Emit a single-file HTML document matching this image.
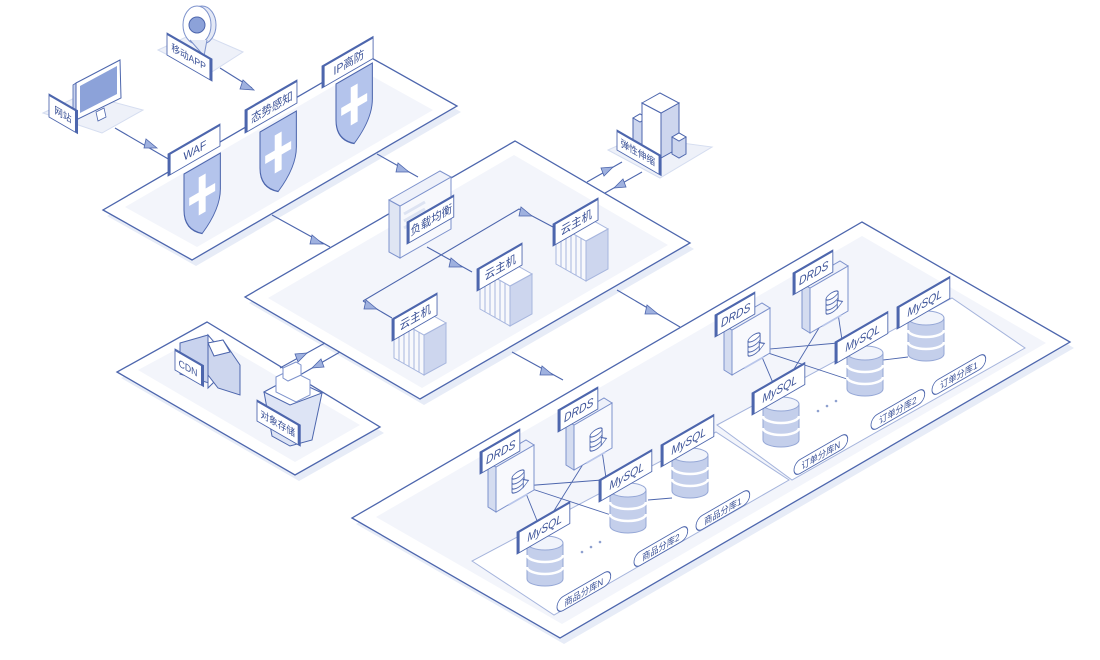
<!DOCTYPE html>
<html><head><meta charset="utf-8"><style>
html,body{margin:0;padding:0;background:#fff;}
svg{display:block;font-family:"Liberation Sans","Noto Sans CJK SC",sans-serif;}
.p{fill:#fff;stroke:#4d66ad;stroke-width:1.3;}
.sh{fill:#e7ecf7;}
.in{fill:#f3f5fb;}
.ln{stroke:#4d66ad;stroke-width:1.1;fill:none;}
.tl{stroke:#4d66ad;stroke-width:0.9;fill:none;}
.ar{fill:#9fb1df;stroke:#4d66ad;stroke-width:0.8;}
.lb{fill:#fff;stroke:#4d66ad;stroke-width:1;}
.lt{fill:#3a5197;font-size:12px;}
.bar{fill:#4d66ad;}
.pill{fill:#fff;stroke:#4d66ad;stroke-width:1;}
.pt{fill:#3a5197;font-size:9.5px;}
.cy{fill:#c4cfeb;stroke:#95a7d6;stroke-width:1;}
.cyt{fill:#f1f4fb;stroke:#95a7d6;stroke-width:1;}
.face{fill:#fff;stroke:#7d92cc;stroke-width:1;}
.side{fill:#cdd6ee;stroke:#7d92cc;stroke-width:1;}
</style></head><body>
<svg width="1100" height="660" viewBox="0 0 1100 660" xmlns="http://www.w3.org/2000/svg">
<defs>
<g id="cyl">
<path class="cy" d="M0,0 L0,36 A18,7 0 0 0 36,36 L36,0 Z"/>
<path d="M0,12 A18,7 0 0 0 36,12" stroke="#fff" stroke-width="2.5" fill="none"/>
<path d="M0,24 A18,7 0 0 0 36,24" stroke="#fff" stroke-width="2.5" fill="none"/>
<ellipse class="cyt" cx="18" cy="0" rx="18" ry="7"/>
</g>
<g id="srv">
<path d="M0,0 L0,40 L30,57 L30,17 Z" fill="#f7f8fc" stroke="#a7b6de"/>
<path d="M5,3 L5,43 M10,6 L10,46 M15,9 L15,49 M20,11 L20,51 M25,14 L25,54" stroke="#a7b6de"/>
<path d="M30,17 L30,57 L52,45 L52,5 Z" fill="#cdd6ee" stroke="#a7b6de"/>
<path d="M0,0 L22,-12 L52,5 L30,17 Z" fill="#fff" stroke="#a7b6de"/>
</g>
<g id="drds">
<path d="M0,0 L0,45 L8,50 L8,5 Z" fill="#d4dcf0" stroke="#7d92cc"/>
<path d="M8,5 L8,50 L46,28 L46,-17 Z" fill="#f8f9fd" stroke="#7d92cc"/>
<path d="M0,0 L38,-22 L46,-17 L8,5 Z" fill="#eef1fa" stroke="#7d92cc"/>
<g transform="matrix(.866,-.5,0,1,24,16)">
<ellipse cx="7" cy="0" rx="7" ry="3" fill="#fff" stroke="#4d66ad"/>
<path d="M0,0 L0,14 A7,3 0 0 0 14,14 L14,0 M0,5 A7,3 0 0 0 14,5 M0,10 A7,3 0 0 0 14,10" fill="none" stroke="#4d66ad"/>
<path d="M13,8 L19,12 L13,16 Z" fill="#fff" stroke="#4d66ad"/>
<rect x="-4" y="24" width="22" height="2" fill="#b9c6ea"/>
</g>
</g>
<g id="shield">
<path d="M0,0 L42,0 L42,36 Q42,56 21,70 Q0,56 0,36 Z" fill="#b4c4ec" stroke="#4d66ad" stroke-width="1.2"/>
<path d="M17,12 L25,12 L25,27 L36,27 L36,35 L25,35 L25,50 L17,50 L17,35 L6,35 L6,27 L17,27 Z" fill="#fff"/>
</g>
</defs>

<!-- ===== Platform 1 ===== -->
<polygon class="sh" points="107,216 196,266 461,112 372,62"/>
<polygon class="p" points="103,210 192,260 457,106 368,56"/>
<polygon class="in" points="125,207 197,247 433,110 361,70"/>

<!-- ===== Platform 2 ===== -->
<polygon class="sh" points="249,303 424,405 694,249 519,147"/>
<polygon class="p" points="245,297 420,399 690,243 515,141"/>
<polygon class="in" points="268,298 422,388 668,245 514,155"/>

<!-- ===== Platform 3 ===== -->
<polygon class="sh" points="121,378 299,481 384,433 211,328"/>
<polygon class="p" points="117,372 295,475 380,427 207,322"/>
<polygon class="in" points="138,370 295,462 360,425 205,334"/>

<!-- ===== Platform 4 ===== -->
<polygon class="sh" points="356,524 564,644 1074,348 866,228"/>
<polygon class="p" points="352,518 560,638 1070,342 862,222"/>
<polygon class="in" points="376,517 562,624 1046,343 862,236"/>
<polygon points="472,561 554,615 789,480 716,432" fill="#fff" stroke="#a5b4dc" stroke-width="1"/>
<polygon points="717,425 792,480 1025,348 952,298" fill="#fff" stroke="#a5b4dc" stroke-width="1"/>

<!-- small bases -->
<polygon points="43,113 83,94 143,110 102,133" fill="#eef1f9" stroke="#d5ddf0"/>
<polygon points="158,50 197,32 243,52 207,75" fill="#eef1f9" stroke="#d5ddf0"/>
<polygon points="608,150 637,137 712,147 660,178" fill="#eef1f9" stroke="#d5ddf0"/>

<!-- ===== connectors ===== -->
<path class="ln" d="M115,128 L170,160"/>
<polygon class="ar" points="157,148 146,139 144,148"/>
<path class="ln" d="M220,68 L252,88"/>
<polygon class="ar" points="254,90 243,80 240,89"/>
<path class="ln" d="M377,154 L418,177"/>
<polygon class="ar" points="409,172 398,163 396,172"/>
<path class="ln" d="M272,215 L330,247"/>
<polygon class="ar" points="323,244 312,235 310,244"/>
<path class="ln" d="M427,247 L472,272"/>
<polygon class="ar" points="462,267 451,258 449,267"/>
<path class="ln" d="M363,301 L519,209 L553,227"/>
<polygon class="ar" points="532,216 521,207 519,216"/>
<path class="ln" d="M363,301 L392,318"/>
<polygon class="ar" points="377,309 366,300 364,309"/>
<path class="ln" d="M587,182 L622,162"/>
<polygon class="ar" points="613,167 601,168 604,176"/>
<path class="ln" d="M605,193 L642,172"/>
<polygon class="ar" points="614,188 626,187 623,179"/>
<path class="ln" d="M617,290 L680,327"/>
<polygon class="ar" points="658,314 647,305 645,314"/>
<path class="ln" d="M512,352 L563,380"/>
<polygon class="ar" points="553,375 542,366 540,375"/>
<path class="ln" d="M325,343 L280,368"/>
<polygon class="ar" points="307,353 295,354 298,362"/>
<path class="ln" d="M340,352 L300,375"/>
<polygon class="ar" points="312,368 324,367 321,359"/>

<!-- DB lines products -->
<path class="tl" d="M523,486 L540,528 M523,486 L602,480 M523,486 L614,516 M600,437 L542,530 M600,437 L606,478 M648,500 L672,498"/>
<!-- DB lines orders -->
<path class="tl" d="M759,350 L776,390 M759,350 L838,343 M759,350 L850,380 M836,300 L780,392 M836,300 L842,340 M883,360 L908,357"/>

<!-- ===== Icons ===== -->
<!-- monitor -->
<polygon points="73,85 76,83 76,120 73,122" fill="#c9d3ee" stroke="#4d66ad" stroke-width=".8"/>
<polygon points="76,83 120,60 121,98 76,120" fill="#fff" stroke="#4d66ad"/>
<polygon points="80,86 117,66 117,94 80,113" fill="#8ca2d9"/>
<polygon points="96,112 104,108 106,117 98,121" fill="#fff" stroke="#4d66ad" stroke-width=".8"/>
<!-- pin -->
<ellipse cx="202" cy="25" rx="14" ry="19" fill="#e4e9f6" stroke="#7d92cc"/>
<ellipse cx="197" cy="25" rx="14" ry="19" fill="#fff" stroke="#7d92cc"/>
<path d="M190,40 L204,56 L207,40" fill="#e4e9f6" stroke="#7d92cc"/>
<circle cx="197" cy="25" r="8" fill="#8ca2d9" stroke="#4d66ad"/>
<!-- shields -->
<g transform="matrix(.866,-.5,0,1,184,174)"><use href="#shield"/></g>
<g transform="matrix(.866,-.5,0,1,260,132)"><use href="#shield"/></g>
<g transform="matrix(.866,-.5,0,1,336,84)"><use href="#shield"/></g>
<!-- load balancer -->
<path d="M389,200 L389,252 L400,258 L400,206 Z" fill="#dfe5f3" stroke="#7d92cc"/>
<path d="M400,206 L400,258 L451,229 L451,177 Z" fill="#f7f8fc" stroke="#7d92cc"/>
<path d="M389,200 L440,171 L451,177 L400,206 Z" fill="#eef1fa" stroke="#7d92cc"/>
<path d="M404,214 L425,202 M404,221 L425,209 M404,228 L425,216" stroke="#dde3f2" stroke-width="3"/>
<!-- servers -->
<use href="#srv" x="556" y="224"/>
<use href="#srv" x="480" y="269"/>
<use href="#srv" x="394" y="318"/>
<!-- buildings -->
<polygon points="633,118 640,114 647,118 647,150 640,154 633,150" fill="#cdd6ee" stroke="#4d66ad"/>
<polygon points="633,118 640,114 647,118 640,122" fill="#fff" stroke="#4d66ad"/>
<polygon points="642,103 661,113 661,158 642,148" fill="#fff" stroke="#4d66ad"/>
<polygon points="661,113 679,103 679,148 661,158" fill="#cdd6ee" stroke="#4d66ad"/>
<polygon points="642,103 660,93 679,103 661,113" fill="#fff" stroke="#4d66ad"/>
<polygon points="672,137 679,133 686,137 686,154 679,158 672,154" fill="#cdd6ee" stroke="#4d66ad"/>
<polygon points="672,137 679,133 686,137 679,141" fill="#fff" stroke="#4d66ad"/>
<!-- CDN -->
<polygon points="180,343 208,335 212,350 212,384 180,374" fill="#c9d3ee" stroke="#4d66ad"/>
<polygon points="208,335 214,342 214,382 208,388" fill="#fff" stroke="#4d66ad"/>
<polygon points="208,343 223,340 240,365 240,395 218,388 208,375" fill="#cdd6ee" stroke="#4d66ad"/>
<polygon points="208,343 223,340 230,352 214,356" fill="#fff" stroke="#4d66ad"/>
<!-- object storage -->
<polygon points="264,392 290,378 322,393 312,440 290,446 272,436" fill="#dde4f5" stroke="#4d66ad"/>
<polygon points="264,392 290,405 322,393 290,378" fill="#fff" stroke="#4d66ad"/>
<polygon points="276,377 290,370 310,380 310,395 296,402 276,392" fill="#fff" stroke="#7d92cc"/>
<polygon points="283,368 296,362 301,365 301,375 288,381 283,378" fill="#fff" stroke="#7d92cc"/>
<!-- DRDS -->
<use href="#drds" x="488" y="462"/>
<use href="#drds" x="566" y="420"/>
<use href="#drds" x="724" y="325"/>
<use href="#drds" x="802" y="283"/>
<!-- cylinders -->
<use href="#cyl" x="527" y="543"/>
<use href="#cyl" x="610" y="490"/>
<use href="#cyl" x="672" y="455"/>
<use href="#cyl" x="763" y="404"/>
<use href="#cyl" x="847" y="353"/>
<use href="#cyl" x="908" y="318"/>
<!-- dots -->
<g fill="#8ea0cf"><circle cx="582" cy="552" r="1.3"/><circle cx="591" cy="547" r="1.3"/><circle cx="600" cy="542" r="1.3"/>
<circle cx="818" cy="411" r="1.3"/><circle cx="827" cy="406" r="1.3"/><circle cx="836" cy="401" r="1.3"/></g>

<!-- ===== Labels (up-right) ===== -->
<g transform="matrix(.866,-.5,0,1,168,154)"><rect class="lb" width="60" height="22"/><rect class="bar" width="3" height="22"/><rect class="bar" width="60" height="2"/><text class="lt" x="31" y="16" text-anchor="middle">WAF</text></g>
<g transform="matrix(.866,-.5,0,1,245,110)"><rect class="lb" width="60" height="23"/><rect class="bar" width="3" height="23"/><rect class="bar" width="60" height="2"/><text class="lt" x="31" y="17" text-anchor="middle">态势感知</text></g>
<g transform="matrix(.866,-.5,0,1,322,66)"><rect class="lb" width="59" height="22"/><rect class="bar" width="3" height="22"/><rect class="bar" width="59" height="2"/><text class="lt" x="31" y="16" text-anchor="middle">IP高防</text></g>
<g transform="matrix(.866,-.5,0,1,407,222)"><rect class="lb" width="54" height="22"/><rect class="bar" width="3" height="22"/><rect class="bar" width="54" height="2"/><text class="lt" x="28" y="16" text-anchor="middle">负载均衡</text></g>
<g transform="matrix(.866,-.5,0,1,553,224)"><rect class="lb" width="52" height="22"/><rect class="bar" width="3" height="22"/><rect class="bar" width="52" height="2"/><text class="lt" x="27" y="16" text-anchor="middle">云主机</text></g>
<g transform="matrix(.866,-.5,0,1,477,269)"><rect class="lb" width="52" height="22"/><rect class="bar" width="3" height="22"/><rect class="bar" width="52" height="2"/><text class="lt" x="27" y="16" text-anchor="middle">云主机</text></g>
<g transform="matrix(.866,-.5,0,1,392,319)"><rect class="lb" width="52" height="22"/><rect class="bar" width="3" height="22"/><rect class="bar" width="52" height="2"/><text class="lt" x="27" y="16" text-anchor="middle">云主机</text></g>
<!-- DRDS labels -->
<g transform="matrix(.866,-.5,0,1,480,452)"><rect class="lb" width="46" height="22"/><rect class="bar" width="3" height="22"/><rect class="bar" width="46" height="2"/><text class="lt" x="24" y="16" text-anchor="middle" font-style="italic">DRDS</text></g>
<g transform="matrix(.866,-.5,0,1,558,410)"><rect class="lb" width="46" height="22"/><rect class="bar" width="3" height="22"/><rect class="bar" width="46" height="2"/><text class="lt" x="24" y="16" text-anchor="middle" font-style="italic">DRDS</text></g>
<g transform="matrix(.866,-.5,0,1,715,315)"><rect class="lb" width="46" height="22"/><rect class="bar" width="3" height="22"/><rect class="bar" width="46" height="2"/><text class="lt" x="24" y="16" text-anchor="middle" font-style="italic">DRDS</text></g>
<g transform="matrix(.866,-.5,0,1,793,273)"><rect class="lb" width="46" height="22"/><rect class="bar" width="3" height="22"/><rect class="bar" width="46" height="2"/><text class="lt" x="24" y="16" text-anchor="middle" font-style="italic">DRDS</text></g>
<!-- MySQL labels -->
<g transform="matrix(.866,-.5,0,1,517,532)"><rect class="lb" width="61" height="22"/><rect class="bar" width="3" height="22"/><rect class="bar" width="61" height="2"/><text class="lt" x="32" y="16" text-anchor="middle" font-style="italic">MySQL</text></g>
<g transform="matrix(.866,-.5,0,1,599,480)"><rect class="lb" width="61" height="22"/><rect class="bar" width="3" height="22"/><rect class="bar" width="61" height="2"/><text class="lt" x="32" y="16" text-anchor="middle" font-style="italic">MySQL</text></g>
<g transform="matrix(.866,-.5,0,1,661,445)"><rect class="lb" width="61" height="22"/><rect class="bar" width="3" height="22"/><rect class="bar" width="61" height="2"/><text class="lt" x="32" y="16" text-anchor="middle" font-style="italic">MySQL</text></g>
<g transform="matrix(.866,-.5,0,1,752,393)"><rect class="lb" width="61" height="22"/><rect class="bar" width="3" height="22"/><rect class="bar" width="61" height="2"/><text class="lt" x="32" y="16" text-anchor="middle" font-style="italic">MySQL</text></g>
<g transform="matrix(.866,-.5,0,1,835,342)"><rect class="lb" width="61" height="22"/><rect class="bar" width="3" height="22"/><rect class="bar" width="61" height="2"/><text class="lt" x="32" y="16" text-anchor="middle" font-style="italic">MySQL</text></g>
<g transform="matrix(.866,-.5,0,1,897,307)"><rect class="lb" width="61" height="22"/><rect class="bar" width="3" height="22"/><rect class="bar" width="61" height="2"/><text class="lt" x="32" y="16" text-anchor="middle" font-style="italic">MySQL</text></g>

<!-- ===== Labels (down-right) ===== -->
<g transform="matrix(.866,.5,0,1,49,94)"><rect class="lb" width="33" height="23"/><rect class="bar" x="30" width="3" height="23"/><rect class="bar" width="33" height="2"/><text class="lt" x="16" y="16" text-anchor="middle" font-size="10" style="font-size:10px">网站</text></g>
<g transform="matrix(.866,.5,0,1,167,33)"><rect class="lb" width="52" height="22"/><rect class="bar" x="49" width="3" height="22"/><rect class="bar" width="52" height="2"/><text class="lt" x="25" y="15" text-anchor="middle" style="font-size:10px">移动APP</text></g>
<g transform="matrix(.866,.5,0,1,617,130)"><rect class="lb" width="51" height="20"/><rect class="bar" x="48" width="3" height="20"/><rect class="bar" width="51" height="2"/><text class="lt" x="24" y="14" text-anchor="middle" style="font-size:10px">弹性伸缩</text></g>
<g transform="matrix(.866,.5,0,1,175,349)"><rect class="lb" width="33" height="21"/><rect class="bar" x="30" width="3" height="21"/><rect class="bar" width="33" height="2"/><text class="lt" x="15" y="15" text-anchor="middle" style="font-size:10px">CDN</text></g>
<g transform="matrix(.866,.5,0,1,257,400)"><rect class="lb" width="50" height="21"/><rect class="bar" x="47" width="3" height="21"/><rect class="bar" width="50" height="2"/><text class="lt" x="24" y="15" text-anchor="middle" style="font-size:10px">对象存储</text></g>

<!-- ===== partition pills ===== -->
<g transform="matrix(.866,-.5,0,1,557,600)"><rect class="pill" width="62" height="14" rx="7"/><text class="pt" x="31" y="11" text-anchor="middle">商品分库N</text></g>
<g transform="matrix(.866,-.5,0,1,634,555)"><rect class="pill" width="62" height="14" rx="7"/><text class="pt" x="31" y="11" text-anchor="middle">商品分库2</text></g>
<g transform="matrix(.866,-.5,0,1,696,519)"><rect class="pill" width="62" height="14" rx="7"/><text class="pt" x="31" y="11" text-anchor="middle">商品分库1</text></g>
<g transform="matrix(.866,-.5,0,1,794,463)"><rect class="pill" width="62" height="14" rx="7"/><text class="pt" x="31" y="11" text-anchor="middle">订单分库N</text></g>
<g transform="matrix(.866,-.5,0,1,871,418)"><rect class="pill" width="62" height="14" rx="7"/><text class="pt" x="31" y="11" text-anchor="middle">订单分库2</text></g>
<g transform="matrix(.866,-.5,0,1,932,383)"><rect class="pill" width="62" height="14" rx="7"/><text class="pt" x="31" y="11" text-anchor="middle">订单分库1</text></g>
</svg>
</body></html>
